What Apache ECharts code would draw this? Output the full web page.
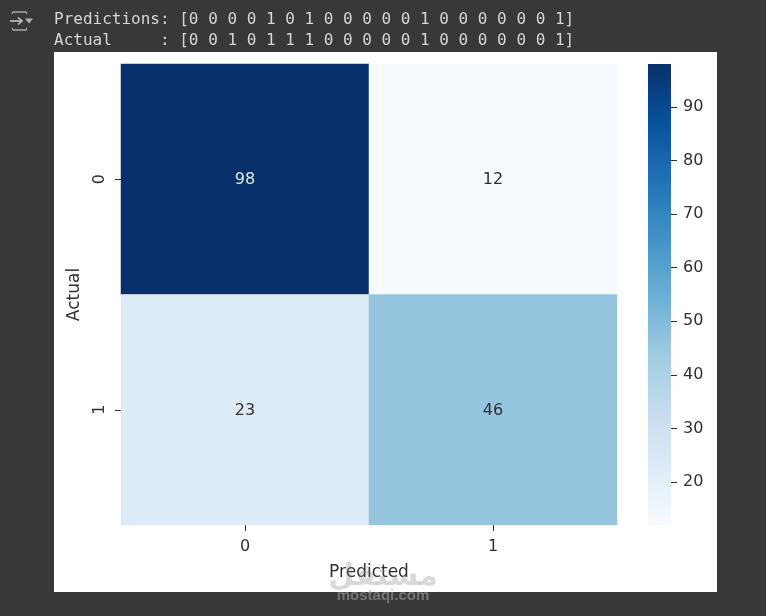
<!DOCTYPE html>
<html>
<head>
<meta charset="utf-8">
<style>
html, body { margin: 0; padding: 0; background: #383838; }
#chart { width: 766px; height: 616px; }
</style>
<script src="https://cdn.jsdelivr.net/npm/echarts@6/dist/echarts.min.js"></script>
</head>
<body>
<div id="chart"></div>
<script>
const predictedLabels = ['0', '1'];
const actualLabels = ['0', '1'];
const row0 = [98, 12];
const row1 = [23, 46];
const colorbarTicks = [20, 30, 40, 50, 60, 70, 80, 90];
const colorbarTop = [98];
const predictionsLine = 'Predictions: [0 0 0 0 1 0 1 0 0 0 0 0 1 0 0 0 0 0 0 1]';
const actualLine = 'Actual     : [0 0 1 0 1 1 1 0 0 0 0 0 1 0 0 0 0 0 0 1]';
const blues = ['#f7fbff', '#deebf7', '#c6dbef', '#9ecae1', '#6baed6', '#4292c6', '#2171b5', '#08519c', '#08306b'];

const font = '"DejaVu Sans", sans-serif';
const ink = '#303030';

// [column, row, value], the dark cell gets a white label like seaborn does
const cells = [];
[row0, row1].forEach((row, y) => {
    row.forEach((v, x) => {
        cells.push({
            value: [x, y, v],
            label: { color: v > 60 ? '#dfe6ee' : ink }
        });
    });
});

// colorbar is one bar over the whole value axis, top of gradient = darkest
const barStops = blues.map((c, i) => ({ offset: 1 - i / (blues.length - 1), color: c }));

const chart = echarts.init(document.getElementById('chart'));
chart.setOption({
    backgroundColor: '#383838',
    animation: false,
    grid: [
        { left: 121, top: 64, width: 496, height: 461 },
        { left: 648, top: 64, width: 23, height: 461 }
    ],
    xAxis: [
        {
            type: 'category',
            gridIndex: 0,
            data: predictedLabels,
            name: 'Predicted',
            nameLocation: 'middle',
            nameGap: 39,
            nameTextStyle: { color: ink, fontSize: 17, fontFamily: font },
            axisLine: { show: false },
            axisTick: { show: true, alignWithLabel: true, length: 6, lineStyle: { color: ink } },
            axisLabel: { color: ink, fontSize: 16, fontFamily: font, margin: 14 },
            splitLine: { show: false }
        },
        { type: 'category', gridIndex: 1, show: false, data: ['bar'] }
    ],
    yAxis: [
        {
            type: 'category',
            gridIndex: 0,
            inverse: true,
            data: actualLabels,
            name: 'Actual',
            nameLocation: 'middle',
            nameGap: 38,
            nameTextStyle: { color: ink, fontSize: 17, fontFamily: font },
            axisLine: { show: false },
            axisTick: { show: true, alignWithLabel: true, length: 6, lineStyle: { color: ink } },
            axisLabel: { color: ink, fontSize: 16, fontFamily: font, rotate: 90, margin: 13 },
            splitLine: { show: false }
        },
        {
            type: 'value',
            gridIndex: 1,
            position: 'right',
            min: 12,
            max: 98,
            axisLine: { show: false },
            splitLine: { show: false },
            axisTick: { show: true, length: 6, customValues: colorbarTicks, lineStyle: { color: ink } },
            axisLabel: { color: ink, fontSize: 16, fontFamily: font, margin: 12, padding: [3, 0, 0, 0], customValues: colorbarTicks }
        }
    ],
    visualMap: {
        type: 'continuous',
        show: false,
        seriesIndex: 0,
        min: 12,
        max: 98,
        inRange: { color: blues }
    },
    series: [
        {
            type: 'heatmap',
            xAxisIndex: 0,
            yAxisIndex: 0,
            data: cells,
            label: { show: true, fontSize: 16, fontFamily: font, offset: [0, 1], formatter: p => p.value[2] },
            itemStyle: { borderWidth: 0 }
        },
        {
            type: 'bar',
            xAxisIndex: 1,
            yAxisIndex: 1,
            data: colorbarTop,
            barWidth: '100%',
            silent: true,
            itemStyle: { color: new echarts.graphic.LinearGradient(0, 0, 0, 1, barStops.reverse()) }
        }
    ],
    graphic: [
        { type: 'rect', z: -10, shape: { x: 54, y: 52, width: 663, height: 540 }, style: { fill: '#ffffff' } },
        { type: 'text', x: 54, y: 12, style: { text: predictionsLine, fill: '#d6d6d6', font: '16px "DejaVu Sans Mono", monospace' } },
        { type: 'text', x: 54, y: 33, style: { text: actualLine, fill: '#d6d6d6', font: '16px "DejaVu Sans Mono", monospace' } },
        // output toggle icon
        { type: 'polyline', shape: { points: [[12, 14], [13, 12], [26, 12], [27, 14]] }, style: { stroke: '#a8a8a8', fill: 'none', lineWidth: 1.3 } },
        { type: 'line', shape: { x1: 10, y1: 21, x2: 22, y2: 21 }, style: { stroke: '#c4c4c4', lineWidth: 1.6 } },
        { type: 'polyline', shape: { points: [[18, 17.5], [22, 21], [18, 24.5]] }, style: { stroke: '#c4c4c4', fill: 'none', lineWidth: 1.6 } },
        { type: 'polygon', shape: { points: [[25, 18.5], [33, 18.5], [29, 23.5]] }, style: { fill: '#b4b4b4' } },
        { type: 'polyline', shape: { points: [[12, 28], [13, 30], [26, 30], [27, 28]] }, style: { stroke: '#a8a8a8', fill: 'none', lineWidth: 1.3 } },
        // watermark
        { type: 'text', x: 383, y: 577, z: 20, style: { text: 'مستقل', fill: 'rgba(130,130,130,0.3)', font: 'bold 30px "DejaVu Sans"', align: 'center', verticalAlign: 'middle' } },
        { type: 'text', x: 383, y: 596, z: 20, style: { text: 'mostaqi.com', fill: 'rgba(165,165,165,0.55)', font: 'bold 15px "Liberation Sans"', align: 'center', verticalAlign: 'middle' } }
    ]
});
</script>
</body>
</html>
